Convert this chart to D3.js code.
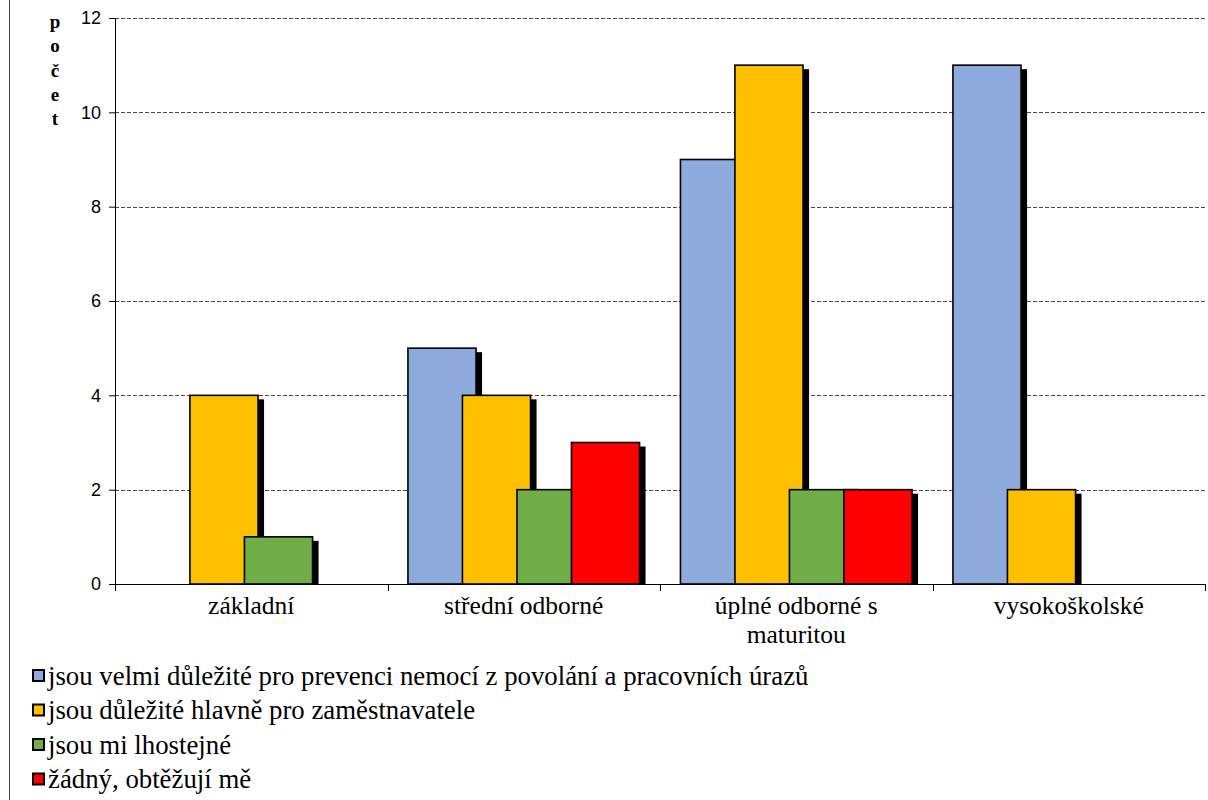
<!DOCTYPE html>
<html>
<head>
<meta charset="utf-8">
<script src="https://cdn.jsdelivr.net/npm/d3@7/dist/d3.min.js"></script>
<style>
  html, body { margin: 0; padding: 0; background: #fff; }
  svg { display: block; }
</style>
</head>
<body>
<svg id="chart" width="1208" height="800"></svg>
<script>
// Education levels on the x axis
const categories = ["základní", "střední odborné", "úplné odborné s maturitou", "vysokoškolské"];
const categoryLines = [["základní"], ["střední odborné"], ["úplné odborné s", "maturitou"], ["vysokoškolské"]];

// Answer series
const seriesNames = [
  "jsou velmi důležité pro prevenci nemocí z povolání a pracovních úrazů",
  "jsou důležité hlavně pro zaměstnavatele",
  "jsou mi lhostejné",
  "žádný, obtěžují mě"
];
const seriesColors = ["#8EA9DB", "#FFC000", "#70AD47", "#FF0000"];

// Counts per series, in category order
const veryImportant = [0, 5, 9, 11];
const employerOnly  = [4, 4, 11, 2];
const indifferent   = [1, 2, 2, 0];
const annoying      = [0, 3, 2, 0];
const seriesValues = [veryImportant, employerOnly, indifferent, annoying];

const yTicks = [0, 2, 4, 6, 8, 10, 12];
const yTitle = ["p", "o", "č", "e", "t"];

const SERIF = "Liberation Serif";
const SANS = "Liberation Sans";

// Apply a font directly to a text selection
function font(sel, family, size, weight) {
  sel.attr("font-family", family).style("font-family", family)
     .attr("font-size", size).style("font-size", size + "px");
  if (weight) sel.attr("font-weight", weight).style("font-weight", weight);
  return sel;
}

const svg = d3.select("#chart");
const W = 1208, H = 800;

const plot = { left: 115, right: 1205, top: 18, bottom: 584 };

const x = d3.scaleBand().domain(categories).range([plot.left, plot.right]).paddingInner(0).paddingOuter(0);
const y = d3.scaleLinear().domain([0, 12]).range([plot.bottom, plot.top]);

// Overlapping clustered bars: step between series narrower than the bar width
const barStep = x.bandwidth() * 0.2;
const barWidth = x.bandwidth() * 0.25;
const groupWidth = barStep * 3 + barWidth;
const shadowDx = 6, shadowDy = 4;

// Outer chart frame (left edge visible)
svg.append("line")
  .attr("x1", 9.5).attr("x2", 9.5).attr("y1", 0).attr("y2", H)
  .attr("stroke", "#444").attr("stroke-width", 1);

// Dashed horizontal gridlines
svg.append("g").selectAll("line")
  .data(yTicks.filter(d => d > 0))
  .join("line")
  .attr("x1", plot.left).attr("x2", plot.right)
  .attr("y1", d => Math.round(y(d)) + 0.5).attr("y2", d => Math.round(y(d)) + 0.5)
  .attr("stroke", "#4a4a4a").attr("stroke-width", 1)
  .attr("stroke-dasharray", "4,2");

// Bars with drop shadows
const barsG = svg.append("g");
seriesValues.forEach((vals, si) => {
  categories.forEach((cat, ci) => {
    const v = vals[ci];
    if (!v) return;
    const center = x(cat) + x.bandwidth() / 2;
    const bx = center - groupWidth / 2 + si * barStep;
    const by = y(v);
    barsG.append("rect")
      .attr("x", bx + shadowDx)
      .attr("y", by + shadowDy)
      .attr("width", barWidth)
      .attr("height", y(0) - by - shadowDy)
      .attr("fill", "#000");
    barsG.append("rect")
      .attr("x", bx)
      .attr("y", by)
      .attr("width", barWidth)
      .attr("height", y(0) - by)
      .attr("fill", seriesColors[si])
      .attr("stroke", "#000")
      .attr("stroke-width", 1.6);
  });
});

// Y axis
const yAxis = d3.axisLeft(y).tickValues(yTicks).tickSize(6).tickPadding(8).tickFormat(d3.format("d"));
const yG = svg.append("g").attr("transform", `translate(${plot.left},0)`).call(yAxis);
yG.attr("font-family", SANS).attr("font-size", 18);
yG.select(".domain").attr("stroke", "#000");
yG.selectAll(".tick line").attr("stroke", "#000");
font(yG.selectAll("text"), SANS, 18).attr("fill", "#000");

// X axis with ticks at category boundaries
const boundaries = categories.map(c => x(c)).concat([plot.right]);
svg.append("line")
  .attr("x1", plot.left).attr("x2", plot.right)
  .attr("y1", y(0) + 0.5).attr("y2", y(0) + 0.5)
  .attr("stroke", "#000").attr("stroke-width", 1.2);
svg.append("g").selectAll("line")
  .data(boundaries)
  .join("line")
  .attr("x1", d => Math.round(d) + 0.5).attr("x2", d => Math.round(d) + 0.5)
  .attr("y1", y(0)).attr("y2", y(0) + 7)
  .attr("stroke", "#000");

// Category labels (one text per line)
const xl = svg.append("g");
categories.forEach((cat, i) => {
  const cx = x(cat) + x.bandwidth() / 2;
  categoryLines[i].forEach((line, li) => {
    font(xl.append("text"), SERIF, 25.5)
      .attr("x", cx)
      .attr("y", 614 + li * 28.5)
      .attr("text-anchor", "middle")
      .attr("fill", "#000")
      .text(line);
  });
});

// Vertical y-axis title, one letter per line
const yt = svg.append("g");
yTitle.forEach((ch, i) => {
  font(yt.append("text"), SERIF, 19, "bold")
    .attr("x", 55)
    .attr("y", 28 + i * 24.3)
    .attr("text-anchor", "middle")
    .text(ch);
});

// Legend
const legend = svg.append("g");
seriesNames.forEach((name, i) => {
  const cy = 675.5 + i * 34.5;
  legend.append("rect")
    .attr("x", 33).attr("y", cy - 5.5)
    .attr("width", 11).attr("height", 11)
    .attr("fill", seriesColors[i])
    .attr("stroke", "#000").attr("stroke-width", 2);
  font(legend.append("text"), SERIF, 26.8)
    .attr("x", 48).attr("y", cy + 9)
    .attr("fill", "#000")
    .text(name);
});
</script>
</body>
</html>
